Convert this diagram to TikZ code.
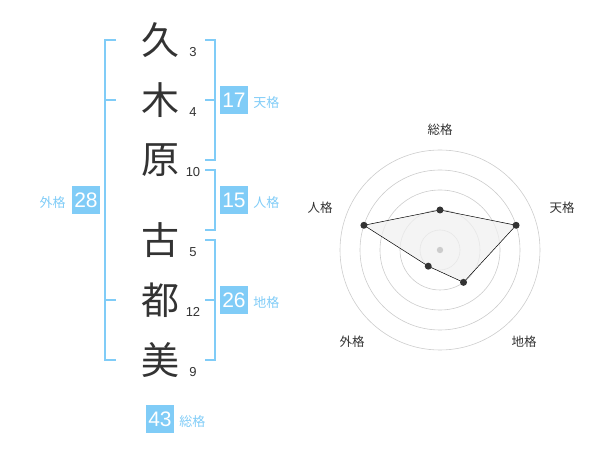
\documentclass[tikz,border=0pt]{standalone}
\usepackage{fontspec}
\setmainfont{Liberation Sans}
\newfontfamily\jp{Noto Sans CJK JP}
\usetikzlibrary{positioning}
\definecolor{kakublue}{HTML}{80CCF7}
\definecolor{inkgray}{HTML}{333333}
\definecolor{ringgray}{HTML}{CCCCCC}
\definecolor{areagray}{HTML}{F0F0F0}
\tikzset{
  kanji/.style={font=\jp\fontsize{38}{38}\selectfont, text=inkgray, inner sep=0pt},
  kakusu/.style={font=\fontsize{13}{13}\selectfont, text=inkgray, inner sep=0pt},
  kakubox/.style={fill=kakublue, text=white, minimum size=28pt, inner sep=0pt, font=\fontsize{21}{21}\selectfont},
  kakuname/.style={text=kakublue, inner sep=0pt, font=\jp\fontsize{13}{13}\selectfont},
  bracket/.style={draw=kakublue, line width=2pt},
  radarname/.style={text=inkgray, inner sep=0pt, font=\jp\fontsize{12.5}{12.5}\selectfont},
}
\begin{document}
\begin{tikzpicture}[x=1pt,y=-1pt]
\useasboundingbox (0,0) rectangle (600,470);
% name and stroke counts
\foreach \ch/\yy/\n/\nm in {久/40/3/a,木/100/4/b,原/160/10/c,古/240/5/d,都/300/12/e,美/360/9/f} {
  \node[kanji] (k\nm) at (160,\yy) {\ch};
  \node[kakusu] (s\nm) at (193,\yy+12) {\n};
}
% brackets
\draw[bracket] (116,40) -- (105,40) -- (105,360) -- (116,360);
\draw[bracket] (105,100) -- (116,100);
\draw[bracket] (105,300) -- (116,300);
\draw[bracket] (205,40) -- (215,40) -- (215,160) -- (205,160);
\draw[bracket] (205,100) -- (215,100);
\draw[bracket] (205,170) -- (215,170) -- (215,230) -- (205,230);
\draw[bracket] (205,240) -- (215,240) -- (215,360) -- (205,360);
\draw[bracket] (205,300) -- (215,300);
% boxes
\node[kakubox] (gaibox) at (86,200) {28};
\node[kakuname, left=6pt of gaibox, yshift=-3pt] (gainame) {外格};
\node[kakubox] (tenbox) at (234,100) {17};
\node[kakuname, right=5pt of tenbox, yshift=-3pt] (tenname) {天格};
\node[kakubox] (jinbox) at (234,200) {15};
\node[kakuname, right=5pt of jinbox, yshift=-3pt] (jinname) {人格};
\node[kakubox] (chibox) at (234,300) {26};
\node[kakuname, right=5pt of chibox, yshift=-3pt] (chiname) {地格};
\node[kakubox] (soubox) at (160,419) {43};
\node[kakuname, right=5pt of soubox, yshift=-3pt] (souname) {総格};
% radar chart
\begin{scope}[shift={(440,250)}, y=1pt]
\foreach \r in {20,40,60,80,100}
  \draw[ringgray, line width=0.6pt] (0,0) circle[radius=\r pt];
\coordinate (sou) at (90:40);
\coordinate (ten) at (18:80);
\coordinate (chi) at (-54:40);
\coordinate (gai) at (-126:20);
\coordinate (jin) at (162:80);
\filldraw[fill=areagray, fill opacity=0.75, draw=black, line width=0.5pt] (sou) -- (ten) -- (chi) -- (gai) -- (jin) -- cycle;
\fill[ringgray] (0,0) circle (3.2pt);
\foreach \p in {sou,ten,chi,gai,jin}
  \fill[inkgray] (\p) circle (3.5pt);
\node[radarname] (soulab) at (0,120) {総格};
\node[radarname] (tenlab) at (122,42) {天格};
\node[radarname] (chilab) at (84,-92) {地格};
\node[radarname] (gailab) at (-88,-92) {外格};
\node[radarname] (jinlab) at (-120,42) {人格};
\end{scope}
\end{tikzpicture}
\end{document}
